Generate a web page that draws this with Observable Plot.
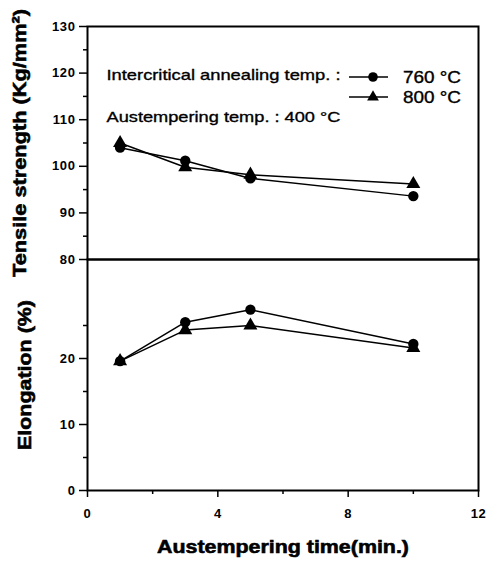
<!DOCTYPE html>
<html>
<head>
<meta charset="utf-8">
<script src="https://cdn.jsdelivr.net/npm/d3@7"></script>
<script src="https://cdn.jsdelivr.net/npm/@observablehq/plot@0.6"></script>
<style>
  body { margin: 0; background: #fff; }
  #chart { position: relative; width: 487px; height: 567px; font-family: "Liberation Sans", Arial, sans-serif; }
  #chart svg { position: absolute; left: 0; overflow: visible; }
</style>
</head>
<body>
<div id="chart"></div>
<script>
// Austempering time (min.)
const times = [1, 3, 5, 10];
// Intercritical annealing temperatures
const series = ["760 °C", "800 °C"];
// Tensile strength (Kg/mm²)
const tensile760 = [104.0, 101.2, 97.4, 93.6];
const tensile800 = [105.0, 99.8, 98.2, 96.2];
// Elongation (%)
const elong760 = [19.6, 25.5, 27.4, 22.2];
const elong800 = [19.6, 24.3, 25.0, 21.6];
// Axis ticks
const xTicks = [0, 4, 8, 12];
const xMinor = [2, 6, 10];
const tensileTicks = [80, 90, 100, 110, 120, 130];
const tensileMinor = [85, 95, 105, 115, 125];
const elongTicks = [0, 10, 20];
const elongMinor = [5, 15, 25];

const rows = (values, s) => times.map((t, i) => ({time: t, value: values[i], series: s}));
const tensile = [...rows(tensile760, series[0]), ...rows(tensile800, series[1])];
const elong = [...rows(elong760, series[0]), ...rows(elong800, series[1])];

const W = 487, ML = 87, MR = 9;
const symbolScale = {domain: series, range: ["circle", "triangle"]};
const style = {background: "transparent", overflow: "visible", fontFamily: "'Liberation Sans', Arial, sans-serif", fontSize: "13px", fontWeight: "bold", color: "black"};
const noteStyle = {textAnchor: "start", lineAnchor: "middle", fontSize: 15, fontWeight: "normal", fill: "black"};

const seriesMarks = (data) => [
  Plot.line(data, {x: "time", y: "value", z: "series", stroke: "black", strokeWidth: 1.5}),
  Plot.dot(data, {x: "time", y: "value", symbol: "series", fill: "black", stroke: "none", r: 5.2})
];

// Upper panel: tensile strength
const upper = Plot.plot({
  width: W, height: 263,
  marginTop: 26, marginBottom: 4, marginLeft: ML, marginRight: MR,
  style,
  x: {domain: [0, 12], axis: null},
  y: {domain: [80, 130]},
  symbol: symbolScale,
  marks: [
    Plot.axisY(tensileMinor, {tickSize: 4, text: null, label: null, strokeWidth: 1.5}),
    Plot.axisY(tensileTicks, {tickSize: 8, tickPadding: 4, strokeWidth: 1.5,
      label: "Tensile strength (Kg/mm²)", labelAnchor: "center", labelArrow: "none", labelOffset: 75}),
    Plot.frame({stroke: "black", strokeWidth: 2}),
    ...seriesMarks(tensile),
    Plot.text(["Intercritical annealing temp. :"], {frameAnchor: "top-left", dx: 19, dy: 49, ...noteStyle}),
    Plot.text(["Austempering temp. : 400 °C"], {frameAnchor: "top-left", dx: 19, dy: 91, ...noteStyle})
  ]
});
upper.style.top = "0px";

// Lower panel: elongation
const lower = Plot.plot({
  width: W, height: 312,
  marginTop: 4, marginBottom: 77, marginLeft: ML, marginRight: MR,
  style,
  x: {domain: [0, 12]},
  y: {domain: [0, 35]},
  symbol: symbolScale,
  marks: [
    Plot.axisY(elongMinor, {tickSize: 4, text: null, label: null, strokeWidth: 1.5}),
    Plot.axisY(elongTicks, {tickSize: 8, tickPadding: 4, strokeWidth: 1.5,
      label: "Elongation (%)", labelAnchor: "center", labelArrow: "none", labelOffset: 70}),
    Plot.axisX(xMinor, {tickSize: 4, text: null, label: null, strokeWidth: 1.5}),
    Plot.axisX(xTicks, {tickSize: 7, tickPadding: 11, strokeWidth: 1.5,
      label: "Austempering time(min.)", labelAnchor: "center", labelArrow: "none", labelOffset: 62}),
    Plot.frame({stroke: "black", strokeWidth: 2}),
    ...seriesMarks(elong)
  ]
});
lower.style.top = "255px";

const chart = document.getElementById("chart");
chart.append(upper, lower);

// Tick labels: wide, heavy digits
d3.selectAll("#chart [aria-label='y-axis tick label'] text, #chart [aria-label='x-axis tick label'] text")
  .style("letter-spacing", "0.6px");

// Axis titles in heavy, wide type
const titleLengths = {"Tensile strength (Kg/mm²)": 268, "Elongation (%)": 150, "Austempering time(min.)": 252};
d3.selectAll("#chart [aria-label='y-axis label'] text, #chart [aria-label='x-axis label'] text")
  .style("font-size", "19px").style("font-weight", "900")
  .attr("stroke", "black").attr("stroke-width", 0.6)
  .each(function() {
    const len = titleLengths[this.textContent.trim()];
    if (len) d3.select(this).attr("textLength", len).attr("lengthAdjust", "spacingAndGlyphs");
  });

// Annotation text stretched to its printed width
d3.select(upper).selectAll("text").filter(function() {
  return /temp\./.test(this.textContent);
}).attr("textLength", 234).attr("lengthAdjust", "spacingAndGlyphs")
  .attr("stroke", "black").attr("stroke-width", 0.35);

// Legend swatches: line through symbol, next to the series names
const g = d3.select(upper).append("g").attr("class", "legend").attr("text-anchor", "start");
series.forEach((name, i) => {
  const y = 77 + i * 20;
  g.append("line").attr("x1", 349).attr("x2", 388).attr("y1", y).attr("y2", y)
    .attr("stroke", "black").attr("stroke-width", 1.3);
  g.append("path")
    .attr("d", d3.symbol(i === 0 ? d3.symbolCircle : d3.symbolTriangle, i === 0 ? 72 : 60)())
    .attr("transform", `translate(373,${y})`).attr("fill", "black");
  g.append("text").attr("x", 403).attr("y", y).attr("dy", "0.35em")
    .attr("font-size", 16).attr("font-weight", "normal")
    .attr("stroke", "black").attr("stroke-width", 0.35)
    .attr("textLength", 58).attr("lengthAdjust", "spacingAndGlyphs").text(name);
});
</script>
</body>
</html>
